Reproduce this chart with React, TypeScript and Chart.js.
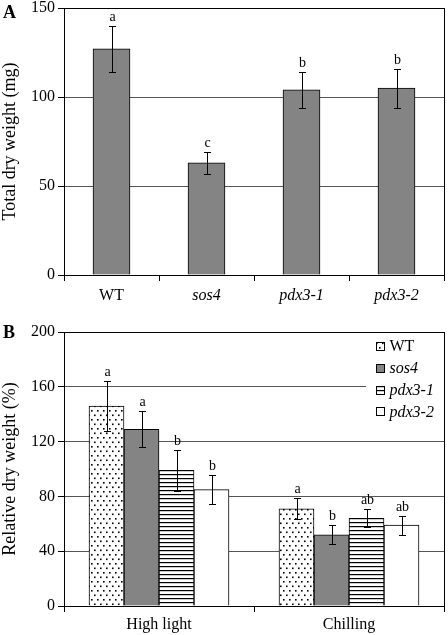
import React, { useEffect, useRef } from "react";
import { Chart, registerables } from "chart.js";

Chart.register(...registerables);

// ---------- Panel A data ----------
const genotypes = ["WT", "sos4", "pdx3-1", "pdx3-2"];
const totalDryWeight = [127, 63, 104, 105];
const totalDryWeightErr = [13, 6, 10, 11];
const lettersA = ["a", "c", "b", "b"];
const ticksA = [0, 50, 100, 150];

// ---------- Panel B data ----------
const conditions = ["High light", "Chilling"];
const relWT = [146, 71];
const relWTErr = [18, 7.5];
const relSos4 = [129, 52];
const relSos4Err = [13, 7];
const relPdx31 = [99, 64];
const relPdx31Err = [15, 6.7];
const relPdx32 = [85, 59];
const relPdx32Err = [10.5, 7];
const lettersB = [
  ["a", "a"],
  ["a", "b"],
  ["b", "ab"],
  ["b", "ab"],
];
const ticksB = [0, 40, 80, 120, 160, 200];

const SERIF = "'Liberation Serif', 'Times New Roman', serif";
const GRAY = "#848484";

function dotPattern(ctx: CanvasRenderingContext2D) {
  const c = document.createElement("canvas");
  c.width = 6;
  c.height = 9;
  const g = c.getContext("2d")!;
  g.fillStyle = "#fff";
  g.fillRect(0, 0, 6, 9);
  g.fillStyle = "#000";
  g.fillRect(1, 1, 1.6, 1.6);
  g.fillRect(4, 5.5, 1.6, 1.6);
  return ctx.createPattern(c, "repeat")!;
}

function stripePattern(ctx: CanvasRenderingContext2D) {
  const c = document.createElement("canvas");
  c.width = 4;
  c.height = 4;
  const g = c.getContext("2d")!;
  g.fillStyle = "#fff";
  g.fillRect(0, 0, 4, 4);
  g.fillStyle = "#000";
  g.fillRect(0, 0, 4, 1.2);
  return ctx.createPattern(c, "repeat")!;
}

function makeErrPlugin(errs: number[][], letters: string[][], panel: string) {
  return {
    id: "errbars" + panel,
    afterDatasetsDraw(chart: any) {
      const ctx = chart.ctx as CanvasRenderingContext2D;
      const y = chart.scales.y;
      ctx.save();
      ctx.strokeStyle = "#000";
      ctx.lineWidth = 1;
      ctx.fillStyle = "#000";
      ctx.font = `14px ${SERIF}`;
      ctx.textAlign = "center";
      ctx.textBaseline = "alphabetic";
      chart.data.datasets.forEach((ds: any, di: number) => {
        const meta = chart.getDatasetMeta(di);
        meta.data.forEach((el: any, i: number) => {
          const v = ds.data[i] as number;
          const e = errs[di][i];
          const x = Math.round(el.x) + 0.5;
          const yt = Math.round(y.getPixelForValue(v + e)) + 0.5;
          const yb = Math.round(y.getPixelForValue(v - e)) + 0.5;
          ctx.beginPath();
          ctx.moveTo(x, yt);
          ctx.lineTo(x, yb);
          ctx.moveTo(x - 3.5, yt);
          ctx.lineTo(x + 3.5, yt);
          ctx.moveTo(x - 3.5, yb);
          ctx.lineTo(x + 3.5, yb);
          ctx.stroke();
          ctx.fillText(letters[di][i], Math.round(el.x) + 0.5, yt - 5.5);
        });
      });
      ctx.restore();
    },
    afterDraw(chart: any) {
      const ctx = chart.ctx as CanvasRenderingContext2D;
      const a = chart.chartArea;
      ctx.save();
      ctx.strokeStyle = "#000";
      ctx.lineWidth = 1;
      const l = Math.round(a.left) + 0.5;
      const t = Math.round(a.top) + 0.5;
      const r = Math.round(a.right) + 0.5;
      const b = Math.round(a.bottom) + 0.5;
      ctx.strokeRect(l, t, r - l, b - t);
      ctx.fillStyle = "#000";
      ctx.font = `bold 18px ${SERIF}`;
      ctx.textAlign = "left";
      ctx.textBaseline = "middle";
      ctx.fillText(panel, 3, panel === "A" ? 13 : 23);
      ctx.restore();
    },
  };
}

const legendPlugin = {
  id: "legendB",
  afterDatasetsDraw(chart: any) {
    const ctx = chart.ctx as CanvasRenderingContext2D;
    const a = chart.chartArea;
    ctx.save();
    ctx.fillStyle = "#fff";
    ctx.fillRect(366, Math.round(a.top) + 1, Math.round(a.right) - 366, 92);
    const y0 = 36.5;
    const step = 21.8;
    chart.data.datasets.forEach((ds: any, i: number) => {
      const cy = y0 + i * step;
      const bx = 376.5;
      const by = Math.round(cy - 4.5) + 0.5;
      ctx.fillStyle = ds.backgroundColor;
      ctx.fillRect(bx, by, 8, 8);
      ctx.strokeStyle = "#000";
      ctx.lineWidth = 1;
      ctx.strokeRect(bx, by, 8, 8);
      ctx.fillStyle = "#000";
      ctx.font = `${i === 0 ? "" : "italic "}16px ${SERIF}`;
      ctx.textAlign = "left";
      ctx.textBaseline = "middle";
      ctx.fillText(ds.label, 389.5, cy + 0.5);
    });
    ctx.restore();
  },
};

function commonY(min: number, max: number, step: number, title: string, tickVals: number[]) {
  return {
    min,
    max,
    afterFit: (s: any) => {
      s.width = 64;
      s.paddingTop = 0;
      s.paddingBottom = 0;
    },
    afterBuildTicks: (s: any) => {
      s.ticks = tickVals.map((v) => ({ value: v }));
    },
    ticks: {
      stepSize: step,
      color: "#000",
      padding: 3,
      font: { family: SERIF, size: 16, lineHeight: 1 },
    },
    grid: {
      color: "#555",
      lineWidth: 1,
      tickLength: 6,
      tickColor: "#000",
      drawTicks: true,
    },
    border: { display: true, color: "#000", width: 1 },
    title: {
      display: true,
      text: title,
      color: "#000",
      padding: { top: 0, bottom: 0 },
      font: { family: SERIF, size: 18, lineHeight: 1.15 },
    },
  };
}

function commonX(height: number, pad: number, italicFrom: number) {
  return {
    afterFit: (s: any) => {
      s.height = height;
    },
    offset: true,
    grid: {
      offset: true,
      drawOnChartArea: false,
      drawTicks: true,
      tickLength: 6,
      color: "#000",
      tickColor: "#000",
    },
    border: { display: true, color: "#000", width: 1 },
    ticks: {
      color: "#000",
      padding: pad,
      maxRotation: 0,
      font: (c: any) => ({
        family: SERIF,
        size: 16,
        style: c.index >= italicFrom ? "italic" : "normal",
      }),
    },
  };
}

export default function App() {
  const refA = useRef<HTMLCanvasElement>(null);
  const refB = useRef<HTMLCanvasElement>(null);

  useEffect(() => {
    const ctxA = refA.current!.getContext("2d")!;
    const ctxB = refB.current!.getContext("2d")!;
    const dots = dotPattern(ctxB);
    const stripes = stripePattern(ctxB);

    const chartA = new Chart(ctxA, {
      type: "bar",
      data: {
        labels: genotypes,
        datasets: [
          {
            label: "Total dry weight",
            data: totalDryWeight,
            backgroundColor: GRAY,
            borderColor: "#000",
            borderWidth: 1,
            borderSkipped: "bottom",
            barThickness: 37,
          },
        ],
      },
      options: {
        animation: false,
        responsive: false,
        devicePixelRatio: 1,
        layout: { padding: { top: 8, right: 4, left: 0, bottom: 0 } },
        plugins: { legend: { display: false }, tooltip: { enabled: false } },
        scales: {
          x: commonX(35, 5, 1) as any,
          y: commonY(0, 150, 50, "Total dry weight (mg)", ticksA) as any,
        },
      },
      plugins: [makeErrPlugin([totalDryWeightErr], [lettersA], "A")],
    });

    const mk = (label: string, data: number[], bg: any) => ({
      label,
      data,
      backgroundColor: bg,
      borderColor: "#000",
      borderWidth: 1,
      borderSkipped: "bottom" as const,
      barThickness: 35,
    });

    const chartB = new Chart(ctxB, {
      type: "bar",
      data: {
        labels: conditions,
        datasets: [
          mk("WT", relWT, dots),
          mk("sos4", relSos4, GRAY),
          mk("pdx3-1", relPdx31, stripes),
          mk("pdx3-2", relPdx32, "#fff"),
        ],
      },
      options: {
        animation: false,
        responsive: false,
        devicePixelRatio: 1,
        layout: { padding: { top: 22, right: 4, left: 0, bottom: 0 } },
        plugins: { legend: { display: false }, tooltip: { enabled: false } },
        scales: {
          x: commonX(29, 3, 99) as any,
          y: commonY(0, 200, 40, "Relative dry weight (%)", ticksB) as any,
        },
      },
      plugins: [
        legendPlugin,
        makeErrPlugin(
          [relWTErr, relSos4Err, relPdx31Err, relPdx32Err],
          lettersB,
          "B"
        ),
      ],
    });

    return () => {
      chartA.destroy();
      chartB.destroy();
    };
  }, []);

  return (
    <div
      style={{
        position: "absolute",
        left: 0,
        top: 0,
        width: 448,
        height: 635,
        background: "#fff",
      }}
    >
      <canvas ref={refA} width={448} height={310} style={{ display: "block" }} />
      <canvas ref={refB} width={448} height={325} style={{ display: "block" }} />
    </div>
  );
}
